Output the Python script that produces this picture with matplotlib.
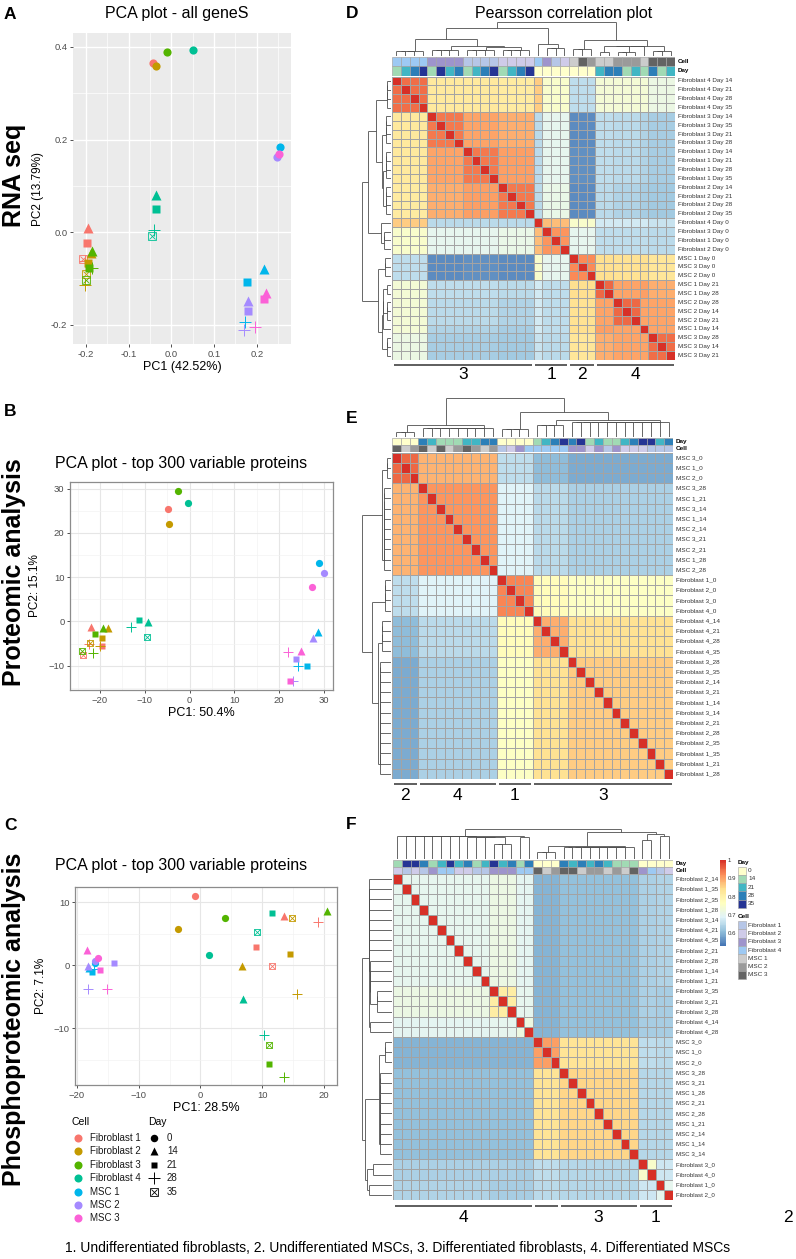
import numpy as np
import matplotlib
matplotlib.use('Agg')
import matplotlib.pyplot as plt
from matplotlib import font_manager
from matplotlib.colors import LinearSegmentedColormap, Normalize
from matplotlib.collections import LineCollection
from matplotlib.patches import Rectangle
from matplotlib.cm import ScalarMappable

plt.rcParams['font.family'] = ['Liberation Sans', 'DejaVu Sans']
_names = {f.name for f in font_manager.fontManager.ttflist}
NARROW = 'Liberation Sans Narrow' if 'Liberation Sans Narrow' in _names else 'Liberation Sans'

# ====================== PCA data ======================
CELLS = ['Fibroblast 1', 'Fibroblast 2', 'Fibroblast 3', 'Fibroblast 4', 'MSC 1', 'MSC 2', 'MSC 3']
CELL_COLORS = ['#F8766D', '#C49A00', '#53B400', '#00C094', '#00B6EB', '#A58AFF', '#FB61D7']
DAYS = [0, 14, 21, 28, 35]

PCA_CELL = [0, 0, 0, 0, 0, 1, 1, 1, 1, 1, 2, 2, 2, 2, 2, 3, 3, 3, 3, 3,
            4, 4, 4, 4, 5, 5, 5, 5, 6, 6, 6, 6]
PCA_DAY = [0, 14, 21, 28, 35, 0, 14, 21, 28, 35, 0, 14, 21, 28, 35, 0, 14, 21, 28, 35,
           0, 14, 21, 28, 0, 14, 21, 28, 0, 14, 21, 28]

A_PC1 = [-0.044, -0.195, -0.197, -0.203, -0.206, -0.036, -0.187, -0.195, -0.202, -0.200,
         -0.009, -0.185, -0.192, -0.186, -0.200, 0.050, -0.036, -0.036, -0.040, -0.045,
         0.254, 0.218, 0.178, 0.172, 0.248, 0.180, 0.179, 0.171, 0.252, 0.221, 0.218, 0.196]
A_PC2 = [0.365, 0.009, -0.024, -0.062, -0.057, 0.359, -0.045, -0.067, -0.114, -0.090,
         0.388, -0.040, -0.078, -0.078, -0.103, 0.394, 0.080, 0.050, 0.004, -0.009,
         0.185, -0.080, -0.108, -0.194, 0.162, -0.148, -0.170, -0.211, 0.168, -0.130, -0.144, -0.204]

B_PC1 = [-4.8, -22.0, -19.5, -22.5, -23.8, -4.6, -18.2, -19.5, -20.0, -22.2,
         -2.6, -19.3, -21.1, -21.6, -24.0, -0.4, -9.3, -11.2, -13.0, -9.5,
         28.9, 28.7, 26.2, 24.2, 30.0, 27.5, 23.7, 23.0, 27.3, 24.8, 22.3, 21.9]
B_PC2 = [25.4, -1.2, -5.6, -5.2, -7.7, 22.1, -1.4, -3.7, -5.5, -4.9,
         29.5, -1.4, -2.8, -7.2, -6.8, 26.8, -0.1, 0.4, -1.3, -3.5,
         13.3, -2.5, -10.1, -10.0, 11.0, -3.8, -8.5, -13.5, 7.7, -6.6, -13.5, -7.0]

C_PC1 = [-0.9, 13.5, 9.0, 19.0, 11.6, -3.6, 6.7, 14.5, 15.6, 14.8,
         4.0, 20.5, 11.1, 13.6, 11.1, 1.4, 6.9, 11.5, 10.3, 9.1,
         -17.0, -18.0, -17.6, -17.3, -17.1, -18.2, -14.0, -18.2, -16.6, -18.4, -16.3, -15.1]
C_PC2 = [11.0, 7.8, 2.9, 6.8, -0.2, 5.7, -0.2, 1.7, -4.6, 7.5,
         7.5, 8.6, -15.7, -17.8, -12.6, 1.6, -5.4, 8.2, -11.1, 5.2,
         0.4, -0.5, -1.1, -0.6, 0.7, -0.1, 0.4, -3.7, 1.2, 2.4, -0.8, -3.7]

# ====================== heatmap data ======================
D_LABELS = ['Fibroblast 4 Day 14', 'Fibroblast 4 Day 21', 'Fibroblast 4 Day 28', 'Fibroblast 4 Day 35',
            'Fibroblast 3 Day 14', 'Fibroblast 3 Day 35', 'Fibroblast 3 Day 21', 'Fibroblast 3 Day 28',
            'Fibroblast 1 Day 14', 'Fibroblast 1 Day 21', 'Fibroblast 1 Day 28', 'Fibroblast 1 Day 35',
            'Fibroblast 2 Day 14', 'Fibroblast 2 Day 21', 'Fibroblast 2 Day 28', 'Fibroblast 2 Day 35',
            'Fibroblast 4 Day 0', 'Fibroblast 3 Day 0', 'Fibroblast 1 Day 0', 'Fibroblast 2 Day 0',
            'MSC 1 Day 0', 'MSC 3 Day 0', 'MSC 2 Day 0', 'MSC 1 Day 21', 'MSC 1 Day 28',
            'MSC 2 Day 28', 'MSC 2 Day 14', 'MSC 2 Day 21', 'MSC 1 Day 14', 'MSC 3 Day 28',
            'MSC 3 Day 14', 'MSC 3 Day 21']
D_GROUPS = 'AAAABBBBCCCCDDDDEFFFGGGHHIIIJKKK'
D_BLOCK = [
    [.965, .885, .885, .880, .910, .840, .780, .830, .830, .830, .820],
    [.885, .960, .935, .930, .775, .810, .715, .780, .775, .770, .765],
    [.885, .935, .960, .940, .775, .810, .720, .780, .775, .770, .765],
    [.880, .930, .940, .960, .775, .815, .715, .775, .770, .765, .760],
    [.910, .775, .775, .775, 1.00, .920, .840, .790, .790, .790, .785],
    [.840, .810, .810, .815, .920, .945, .810, .780, .780, .780, .775],
    [.780, .715, .720, .715, .840, .810, .950, .900, .895, .900, .890],
    [.830, .780, .780, .775, .790, .780, .900, .970, .935, .940, .930],
    [.830, .775, .775, .770, .790, .780, .895, .935, .970, .935, .935],
    [.830, .770, .770, .765, .790, .780, .900, .940, .935, 1.00, .935],
    [.820, .765, .765, .760, .785, .775, .890, .930, .935, .935, .965]]
D_RANGE = (0.70, 1.0)
D_SEG = [16, 4, 3, 9]
D_SEG_LAB = ['3', '1', '2', '4']

E_LABELS = ['MSC 3_0', 'MSC 1_0', 'MSC 2_0', 'MSC 3_28', 'MSC 1_21', 'MSC 3_14', 'MSC 1_14',
            'MSC 2_14', 'MSC 3_21', 'MSC 2_21', 'MSC 1_28', 'MSC 2_28',
            'Fibroblast 1_0', 'Fibroblast 2_0', 'Fibroblast 3_0', 'Fibroblast 4_0',
            'Fibroblast 4_14', 'Fibroblast 4_21', 'Fibroblast 4_28', 'Fibroblast 4_35',
            'Fibroblast 3_28', 'Fibroblast 3_35', 'Fibroblast 2_14', 'Fibroblast 3_21',
            'Fibroblast 1_14', 'Fibroblast 3_14', 'Fibroblast 2_21', 'Fibroblast 2_28',
            'Fibroblast 2_35', 'Fibroblast 1_35', 'Fibroblast 1_21', 'Fibroblast 1_28']
E_GROUPS = 'AAABBBBBBBBBCCCCDDDDEEEEEEEEEEEE'
E_BLOCK = [
    [.955, .890, .670, .625, .605],
    [.890, .915, .700, .665, .650],
    [.670, .700, .930, .780, .770],
    [.625, .665, .780, .895, .845],
    [.605, .650, .770, .845, .865]]
E_RANGE = (0.55, 1.0)
E_SEG = [3, 9, 4, 16]
E_SEG_LAB = ['2', '4', '1', '3']

F_LABELS = ['Fibroblast 2_14', 'Fibroblast 1_35', 'Fibroblast 2_35', 'Fibroblast 1_28',
            'Fibroblast 3_14', 'Fibroblast 4_21', 'Fibroblast 4_35', 'Fibroblast 2_21',
            'Fibroblast 2_28', 'Fibroblast 1_14', 'Fibroblast 1_21', 'Fibroblast 3_35',
            'Fibroblast 3_21', 'Fibroblast 3_28', 'Fibroblast 4_14', 'Fibroblast 4_28',
            'MSC 3_0', 'MSC 1_0', 'MSC 2_0', 'MSC 3_28', 'MSC 3_21', 'MSC 1_28', 'MSC 2_21',
            'MSC 2_28', 'MSC 1_21', 'MSC 2_14', 'MSC 1_14', 'MSC 3_14',
            'Fibroblast 3_0', 'Fibroblast 4_0', 'Fibroblast 1_0', 'Fibroblast 2_0']
F_GROUPS = 'AAAAAAAAAAABBBCCDDDEEEEEEEEEFFGG'
F_BLOCK = [
    [.700, .715, .695, .600, .610, .635, .640],
    [.715, .810, .700, .600, .610, .635, .630],
    [.695, .700, .720, .600, .610, .630, .630],
    [.600, .600, .600, .905, .835, .655, .650],
    [.610, .610, .610, .835, .850, .645, .645],
    [.635, .635, .630, .655, .645, .750, .670],
    [.640, .630, .630, .650, .645, .670, .700]]
F_RANGE = (0.53, 1.0)
F_SEG = [16, 3, 9, 4]
F_SEG_LAB = ['4', '', '3', '1']
F_TICKS = [0.6, 0.7, 0.8, 0.9, 1.0]
F_TICK_LAB = ['0.6', '0.7', '0.8', '0.9', '1']

DAY_ANN = {0: '#FFFFCC', 14: '#A1DAB4', 21: '#41B6C4', 28: '#2C7FB8', 35: '#253494'}
CELL_ANN = {'Fibroblast 1': '#B6C6E7', 'Fibroblast 2': '#CFCBE9', 'Fibroblast 3': '#9E94CC',
            'Fibroblast 4': '#9DC9F3', 'MSC 1': '#CCCCCC', 'MSC 2': '#9A9A9A', 'MSC 3': '#636363'}

CMAP = LinearSegmentedColormap.from_list(
    'rdylbu', ['#4575B4', '#91BFDB', '#E0F3F8', '#FFFFBF', '#FEE090', '#FC8D59', '#D73027'], N=100)

# ====================== layout ======================
W, H = 796, 1259
fig = plt.figure(figsize=(W / 100, H / 100), dpi=100)


def box(l, t, r, b):
    return [l / W, 1 - b / H, (r - l) / W, (b - t) / H]


ov = fig.add_axes([0, 0, 1, 1])
ov.set_xlim(0, W)
ov.set_ylim(H, 0)
ov.axis('off')
ov.patch.set_alpha(0)


def draw_point(ax, x, y, day, color, ms):
    if day == 0:
        ax.plot(x, y, 'o', ms=ms, color=color, mec='none', zorder=3)
    elif day == 14:
        ax.plot(x, y, '^', ms=ms * 1.15, color=color, mec='none', zorder=3)
    elif day == 21:
        ax.plot(x, y, 's', ms=ms * 0.92, color=color, mec='none', zorder=3)
    elif day == 28:
        ax.plot(x, y, '+', ms=ms * 1.5, color=color, mew=0.7, zorder=3)
    else:
        ax.plot(x, y, 's', ms=ms * 0.95, mfc='none', mec=color, mew=0.6, zorder=3)
        ax.plot(x, y, 'x', ms=ms * 0.8, color=color, mew=0.6, zorder=3)


def pca_panel(rect, pc1, pc2, xlim, ylim, xt, yt, xmin, ymin, xlab, ylab, gray, ms, minus):
    ax = fig.add_axes(rect)
    ax.set_xlim(*xlim)
    ax.set_ylim(*ylim)
    ax.set_xticks(xt)
    ax.set_yticks(yt)
    ax.set_xticks(xmin, minor=True)
    ax.set_yticks(ymin, minor=True)
    fmt = (lambda v: ('%.1f' % v)) if gray else (lambda v: '%d' % v)
    ax.set_xticklabels([fmt(v).replace('-', minus) for v in xt])
    ax.set_yticklabels([fmt(v).replace('-', minus) for v in yt])
    ax.set_axisbelow(True)
    if gray:
        ax.set_facecolor('#EBEBEB')
        for s in ax.spines.values():
            s.set_visible(False)
        ax.grid(which='major', color='white', lw=1.0)
        ax.grid(which='minor', color='white', lw=0.5)
    else:
        for s in ax.spines.values():
            s.set_color('#8C8C8C')
            s.set_linewidth(0.9)
        ax.grid(which='major', color='#E6E6E6', lw=0.8)
        ax.grid(which='minor', color='#F2F2F2', lw=0.45)
    ax.tick_params(which='major', length=2.5, width=0.6, color='#333333',
                   labelsize=6.8, labelcolor='#4D4D4D', pad=1.5)
    ax.tick_params(which='minor', length=0)
    for c, d, x, y in zip(PCA_CELL, PCA_DAY, pc1, pc2):
        draw_point(ax, x, y, d, CELL_COLORS[c], ms)
    ax.set_xlabel(xlab, fontsize=9, labelpad=2)
    ax.set_ylabel(ylab, fontsize=8.5, labelpad=5)
    return ax


pca_panel(box(73, 33, 291, 344), A_PC1, A_PC2, (-0.23, 0.28), (-0.241, 0.43),
          [-0.2, -0.1, 0.0, 0.1, 0.2], [-0.2, 0.0, 0.2, 0.4],
          [-0.15, -0.05, 0.05, 0.15, 0.25], [-0.1, 0.1, 0.3],
          'PC1 (42.52%)', 'PC2 (13.79%)', True, 5.9, '-')
pca_panel(box(70, 482, 333, 690), B_PC1, B_PC2, (-26.7, 32.0), (-15.5, 31.5),
          [-20, -10, 0, 10, 20, 30], [-10, 0, 10, 20, 30],
          [-25, -15, -5, 5, 15, 25], [-15, -5, 5, 15, 25],
          'PC1: 50.4%', 'PC2: 15.1%', False, 5.2, '\u2212')
pca_panel(box(75, 887, 337, 1085), C_PC1, C_PC2, (-20.3, 22.1), (-19.0, 12.4),
          [-20, -10, 0, 10, 20], [-10, 0, 10],
          [-15, -5, 5, 15], [-15, -5, 5],
          'PC1: 28.5%', 'PC2: 7.1%', False, 5.2, '\u2212')

# PCA legend
ov.text(72, 1122, 'Cell', fontsize=7.5, va='center')
ov.text(148, 1122, 'Day', fontsize=7.5, va='center')
for i, (name, col) in enumerate(zip(CELLS, CELL_COLORS)):
    yy = 1138 + i * 13.4
    ov.plot(78, yy, 'o', ms=5.8, color=col, mec='none')
    ov.text(90, yy, name, fontsize=7, va='center', color='#1A1A1A')
for i, d in enumerate(DAYS):
    yy = 1138 + i * 13.4
    draw_point(ov, 154, yy, d, 'black', 5.4)
    ov.text(167, yy, str(d), fontsize=7, va='center', color='#1A1A1A')


# ====================== heatmaps ======================
def parse(label):
    if ' Day ' in label:
        name, day = label.split(' Day ')
    else:
        name, day = label.rsplit('_', 1)
    return name, int(day)


def tree_segments(mat):
    dist = 1 - mat
    clusters = [[i] for i in range(len(mat))]
    pos = [i + 0.5 for i in range(len(mat))]
    hgt = [0.0] * len(mat)
    segs = []
    while len(clusters) > 1:
        best = None
        for k in range(len(clusters) - 1):
            d = dist[np.ix_(clusters[k], clusters[k + 1])].mean()
            if best is None or d < best[0] - 1e-12:
                best = (d, k)
        d, k = best
        d = max(d, hgt[k], hgt[k + 1])
        x1, x2 = pos[k], pos[k + 1]
        segs += [[(x1, hgt[k]), (x1, d)], [(x2, hgt[k + 1]), (x2, d)], [(x1, d), (x2, d)]]
        clusters[k:k + 2] = [clusters[k] + clusters[k + 1]]
        pos[k:k + 2] = [(x1 + x2) / 2]
        hgt[k:k + 2] = [d]
    return segs, hgt[0]


def heat_panel(labels, groups, block, vrange, g, ann_rows, seg_sizes, seg_labs, fs):
    n = len(labels)
    keys = sorted(set(groups))
    idx = [keys.index(c) for c in groups]
    mat = np.array(block)[np.ix_(idx, idx)]
    np.fill_diagonal(mat, 1.0)

    ax = fig.add_axes(box(g['l'], g['t'], g['r'], g['b']))
    ax.pcolormesh(mat, cmap=CMAP, vmin=vrange[0], vmax=vrange[1],
                  edgecolors='#A3A3A3', linewidth=0.45)
    ax.set_xlim(0, n)
    ax.set_ylim(n, 0)
    ax.axis('off')
    for i, lab in enumerate(labels):
        ax.text(n + 0.3, i + 0.5, lab, fontsize=fs, family=NARROW, va='center',
                color='#333333', clip_on=False)

    # column annotations
    parsed = [parse(s) for s in labels]
    aax = fig.add_axes(box(g['l'], g['at'], g['r'], g['ab']))
    for r, kind in enumerate(ann_rows):
        for j, (name, day) in enumerate(parsed):
            col = CELL_ANN[name] if kind == 'Cell' else DAY_ANN[day]
            aax.add_patch(Rectangle((j, r), 1, 1, fc=col, ec='#A3A3A3', lw=0.45))
        aax.text(n + 0.3, r + 0.5, kind, fontsize=fs, fontweight='bold', family=NARROW,
                 va='center', clip_on=False)
    aax.set_xlim(0, n)
    aax.set_ylim(len(ann_rows), 0)
    aax.axis('off')

    # dendrograms
    segs, top = tree_segments(mat)
    cdx = fig.add_axes(box(g['l'], g['dt'], g['r'], g['at'] - 1))
    cdx.add_collection(LineCollection(segs, colors='#4D4D4D', linewidths=0.6))
    cdx.set_xlim(0, n)
    cdx.set_ylim(0, top * 1.01)
    cdx.axis('off')
    rdx = fig.add_axes(box(g['dl'], g['t'], g['l'] - 1, g['b']))
    rsegs = [[(p[1], p[0]) for p in s] for s in segs]
    rdx.add_collection(LineCollection(rsegs, colors='#4D4D4D', linewidths=0.6))
    rdx.set_ylim(n, 0)
    rdx.set_xlim(top * 1.01, 0)
    rdx.axis('off')

    # cluster underlines
    cw = (g['r'] - g['l']) / n
    start = 0
    for size, lab in zip(seg_sizes, seg_labs):
        x0 = g['l'] + start * cw + 1.5
        x1 = g['l'] + (start + size) * cw - 1.5
        ov.plot([x0, x1], [g['line'], g['line']], color='#333333', lw=1.1,
                solid_capstyle='butt')
        if lab:
            ov.text((x0 + x1) / 2, g['num'], lab, fontsize=12.5, ha='center', va='center')
        start += size


D_GEO = dict(l=392, r=675, t=76.5, b=360, at=57, ab=75.5, dt=22, dl=362, line=364.5, num=374)
E_GEO = dict(l=392, r=673, t=452.5, b=779, at=438, ab=452, dt=398, dl=362, line=783.5, num=795)
F_GEO = dict(l=393, r=673, t=874, b=1200, at=860, ab=873.5, dt=829, dl=362, line=1206, num=1218)

heat_panel(D_LABELS, D_GROUPS, D_BLOCK, D_RANGE, D_GEO, ['Cell', 'Day'], D_SEG, D_SEG_LAB, 4.5)
heat_panel(E_LABELS, E_GROUPS, E_BLOCK, E_RANGE, E_GEO, ['Day', 'Cell'], E_SEG, E_SEG_LAB, 4.6)
heat_panel(F_LABELS, F_GROUPS, F_BLOCK, F_RANGE, F_GEO, ['Day', 'Cell'], F_SEG, F_SEG_LAB, 4.4)
ov.text(788, 1218, '2', fontsize=12.5, ha='center', va='center')

# F colour scale and annotation legend
cax = fig.add_axes(box(720, 860, 726, 946))
sm = ScalarMappable(norm=Normalize(*F_RANGE), cmap=CMAP)
cb = fig.colorbar(sm, cax=cax, ticks=F_TICKS)
cb.ax.set_yticklabels(F_TICK_LAB)
cb.outline.set_visible(False)
cb.ax.tick_params(length=0, labelsize=4.4, pad=1.2, labelcolor='#333333')

ov.text(738, 862, 'Day', fontsize=4.6, fontweight='bold', family=NARROW, va='center')
for i, d in enumerate(DAYS):
    y0 = 866.5 + i * 8.3
    ov.add_patch(Rectangle((738, y0), 7.5, 8.3, fc=DAY_ANN[d], ec='#A3A3A3', lw=0.4))
    ov.text(748, y0 + 4.1, str(d), fontsize=4.6, family=NARROW, va='center', color='#333333')
ov.text(738, 916.5, 'Cell', fontsize=4.6, fontweight='bold', family=NARROW, va='center')
for i, name in enumerate(CELLS):
    y0 = 921 + i * 8.3
    ov.add_patch(Rectangle((738, y0), 7.5, 8.3, fc=CELL_ANN[name], ec='#A3A3A3', lw=0.4))
    ov.text(748, y0 + 4.1, name, fontsize=4.6, family=NARROW, va='center', color='#333333')

# ====================== text ======================
for letter, x, y in [('A', 4, 14), ('B', 4, 411), ('C', 4, 825),
                     ('D', 346, 13), ('E', 346, 418), ('F', 346, 824)]:
    ov.text(x, y, letter, fontsize=12.5, fontweight='bold', va='center')

ov.text(14, 175, 'RNA seq', fontsize=18, fontweight='bold', rotation=90, ha='center', va='center')
ov.text(14, 572, 'Proteomic analysis', fontsize=18, fontweight='bold', rotation=90,
        ha='center', va='center')
ov.text(14, 1019, 'Phosphoproteomic analysis', fontsize=18, fontweight='bold', rotation=90,
        ha='center', va='center')

ov.text(177, 13, 'PCA plot - all geneS', fontsize=11.5, ha='center', va='center')
ov.text(55, 463, 'PCA plot - top 300 variable proteins', fontsize=11.5, va='center')
ov.text(55, 865, 'PCA plot - top 300 variable proteins', fontsize=11.5, va='center')
ov.text(564, 13, 'Pearsson correlation plot', fontsize=11.5, ha='center', va='center')
ov.text(398, 1248, '1. Undifferentiated fibroblasts, 2. Undifferentiated MSCs, '
        '3. Differentiated fibroblasts, 4. Differentiated MSCs',
        fontsize=10, ha='center', va='center')

fig.savefig('out.png', dpi=100)
